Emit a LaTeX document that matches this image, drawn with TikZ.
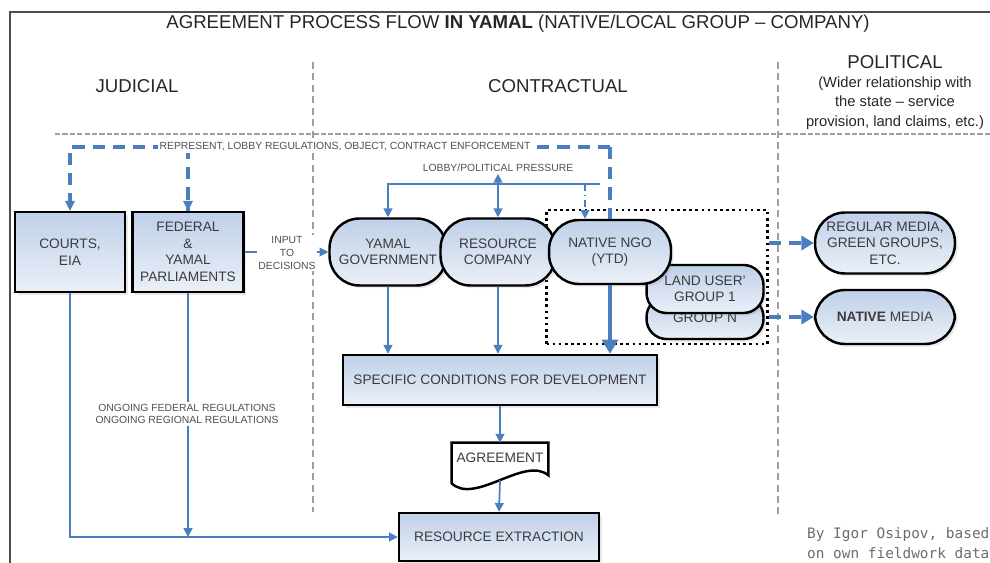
\documentclass[tikz,border=0pt]{standalone}
\usepackage{fontspec}
\setmainfont{Liberation Sans}
\newfontfamily\notefont{DejaVu Sans Mono}
\usepackage{xcolor}
\usetikzlibrary{arrows.meta,calc,shadows}
\definecolor{flowblue}{HTML}{4A7EBF}
\definecolor{boxtop}{HTML}{BFD0E8}
\definecolor{boxbot}{HTML}{EBF0F8}
\definecolor{boxtext}{HTML}{3C3C3C}
\definecolor{lbltext}{HTML}{505050}
\pgfdeclarelayer{back}
\pgfsetlayers{back,main}
\tikzset{
	box/.style={draw=black, line width=1.4pt, top color=boxtop, bottom color=boxbot, text=boxtext, align=center, inner sep=1pt, font=\fontsize{7.8}{9.4}\selectfont, drop shadow={opacity=0.18, shadow xshift=1.5pt, shadow yshift=-1.5pt}},
	pill/.style={box, rounded corners=0.6cm},
	smallpill/.style={box, rounded corners=0.4cm},
	flow/.style={flowblue, line width=1pt, -{Triangle[length=5pt,width=5pt]}},
	flowdash/.style={flowblue, line width=2pt, dash pattern=on 7pt off 4.5pt},
	flowthick/.style={flowblue, line width=2pt, -{Triangle[length=8pt,width=9pt]}},
	lbl/.style={text=lbltext, align=center, inner sep=1pt, font=\fontsize{5.9}{7.2}\selectfont},
	sepline/.style={gray!75, line width=0.6pt, dash pattern=on 4pt off 2.5pt},
	heading/.style={text=black!85, align=center, font=\fontsize{10.6}{12}\selectfont}
}

\begin{document}
\begin{tikzpicture}[x=0.02cm, y=-0.02cm]
				\useasboundingbox (0,0) rectangle (990,563);
				\draw[gray!60!black, line width=0.8pt] (990,12) -- (10,12) -- (10,563);
				
				\node[heading] at (518,24) (title) {AGREEMENT PROCESS FLOW \textbf{IN YAMAL} (NATIVE/LOCAL GROUP -- COMPANY)};
				\node[heading] at (137,86) (judicial) {JUDICIAL};
				\node[heading] at (558,86) (contract) {CONTRACTUAL};
				\node[heading] at (895,62) (political) {POLITICAL};
				\node[heading, font=\fontsize{8.4}{11.2}\selectfont] at (895,103) (wider) {(Wider relationship with\\the state -- service\\provision, land claims, etc.)};
				
				\draw[sepline] (313,62) -- (313,512);
				\draw[sepline] (778,62) -- (778,515);
				\draw[sepline, line width=1.3pt, dash pattern=on 3pt off 1.2pt] (55,134) -- (990,134);
				
				\node[draw=black, line width=1.5pt, dotted, minimum width=4.42cm, minimum height=2.68cm] at (657,277) (grp) {};
				
				\node[box, minimum width=2.2cm, minimum height=1.6cm] at (70,252) (courts) {COURTS,\\EIA};
				\node[box, minimum width=2.22cm, minimum height=1.6cm] at (188,252) (fed) {FEDERAL\\\&\\YAMAL\\PARLIAMENTS};
				\node[pill, minimum width=2.34cm, minimum height=1.34cm] at (388,252) (yamal) {YAMAL\\GOVERNMENT};
				\node[pill, minimum width=2.3cm, minimum height=1.34cm] at (498,252) (rescomp) {RESOURCE\\COMPANY};
				\node[smallpill, minimum width=2.34cm, minimum height=0.84cm, text depth=-6pt] at (705,318) (groupn) {GROUP N};
				\node[smallpill, minimum width=2.34cm, minimum height=0.96cm] at (705,289) (landuser) {LAND USER'\\GROUP 1};
				\node[pill, minimum width=2.44cm, minimum height=1.28cm] at (610,252) (ngo) {NATIVE NGO\\(YTD)};
				\node[pill, minimum width=2.8cm, minimum height=1.22cm] at (885,243) (regmedia) {REGULAR MEDIA,\\GREEN GROUPS,\\ETC.};
				\node[pill, minimum width=2.8cm, minimum height=1.08cm] at (885,317) (natmedia) {\textbf{NATIVE} MEDIA};
				\node[box, minimum width=6.28cm, minimum height=1cm] at (500,380) (specific) {SPECIFIC CONDITIONS FOR DEVELOPMENT};
				\node[text=boxtext, inner sep=1pt, minimum width=1.92cm, minimum height=0.6cm, font=\fontsize{7.8}{9.4}\selectfont] at (500,458) (agr) {AGREEMENT};
				\begin{pgfonlayer}{back}
					\draw[line width=1.4pt, fill=white] (agr.north west) -- (agr.north east) -- ($(agr.south east)+(0,2)$) .. controls ($(agr.south)+(25,-18)$) and ($(agr.south)+(-25,32)$) .. ($(agr.south west)+(0,10)$) -- cycle;
				\end{pgfonlayer}
				\coordinate (agrbot) at ($(agr.south)+(0,7)$);
				\node[box, minimum width=4cm, minimum height=0.96cm] at (499,537) (resext) {RESOURCE EXTRACTION};
				
				\coordinate (tl) at (70,147);
				\coordinate (tr) at (610,147);
				\draw[flowdash] (tr) -| (courts.north);
				\draw[flowdash] (tr) -- (ngo.north);
				\draw[flowdash] (fed.north |- tr) -- (fed.north);
				\fill[flowblue] (courts.north) -- ++(-5,-10) -- ++(10,0) -- cycle;
				\fill[flowblue] (fed.north) -- ++(-5,-10) -- ++(10,0) -- cycle;
				\node[lbl, fill=white] at (345,147) (represent) {REPRESENT, LOBBY REGULATIONS, OBJECT, CONTRACT ENFORCEMENT};
				
				\node[lbl] at (498,168) (lobtxt) {LOBBY/POLITICAL PRESSURE};
				\coordinate (lobr) at (600,184);
				\coordinate (lobd) at (585,184);
				\draw[flow] (lobr) -| (yamal.north);
				\draw[flow] (rescomp.north |- lobr) -- (rescomp.north);
				\draw[flow] (rescomp.north |- lobr) -- (lobtxt.south);
				\draw[flow, dash pattern=on 4pt off 2pt on 1pt off 2pt] (lobd) -- (lobd |- ngo.north);
				
				\draw[flow] (fed.east) -- (yamal.west);
				\node[lbl, fill=white] at (287,253) (input) {INPUT\\TO\\DECISIONS};
				
				\draw[flowthick] (ngo.south) -- (ngo.south |- specific.north);
				\draw[flow] (yamal.south) -- (yamal.south |- specific.north);
				\draw[flow] (rescomp.south) -- (rescomp.south |- specific.north);
				\draw[flow] (specific.south) -- (agr.north);
				\draw[flow] (agrbot) -- (resext.north);
				
				\draw[flow] (courts.south) |- (resext.west);
				\draw[flow] (fed.south) -- (fed.south |- resext.west);
				\node[lbl, fill=white] at (187,414) (ongoing) {ONGOING FEDERAL REGULATIONS\\ONGOING REGIONAL REGULATIONS};
				
				\draw[flowdash, -{Triangle[length=7pt,width=8pt]}] (grp.east |- regmedia.west) -- (regmedia.west);
				\draw[flowdash, -{Triangle[length=7pt,width=8pt]}] (grp.east |- natmedia.west) -- (natmedia.west);
				
				\node[anchor=west, align=left, text=gray!85!black, font=\notefont\fontsize{8.2}{11.3}\selectfont] at (801,543) (credit) {By Igor Osipov, based\\on own fieldwork data};
			\end{tikzpicture}
\end{document}
